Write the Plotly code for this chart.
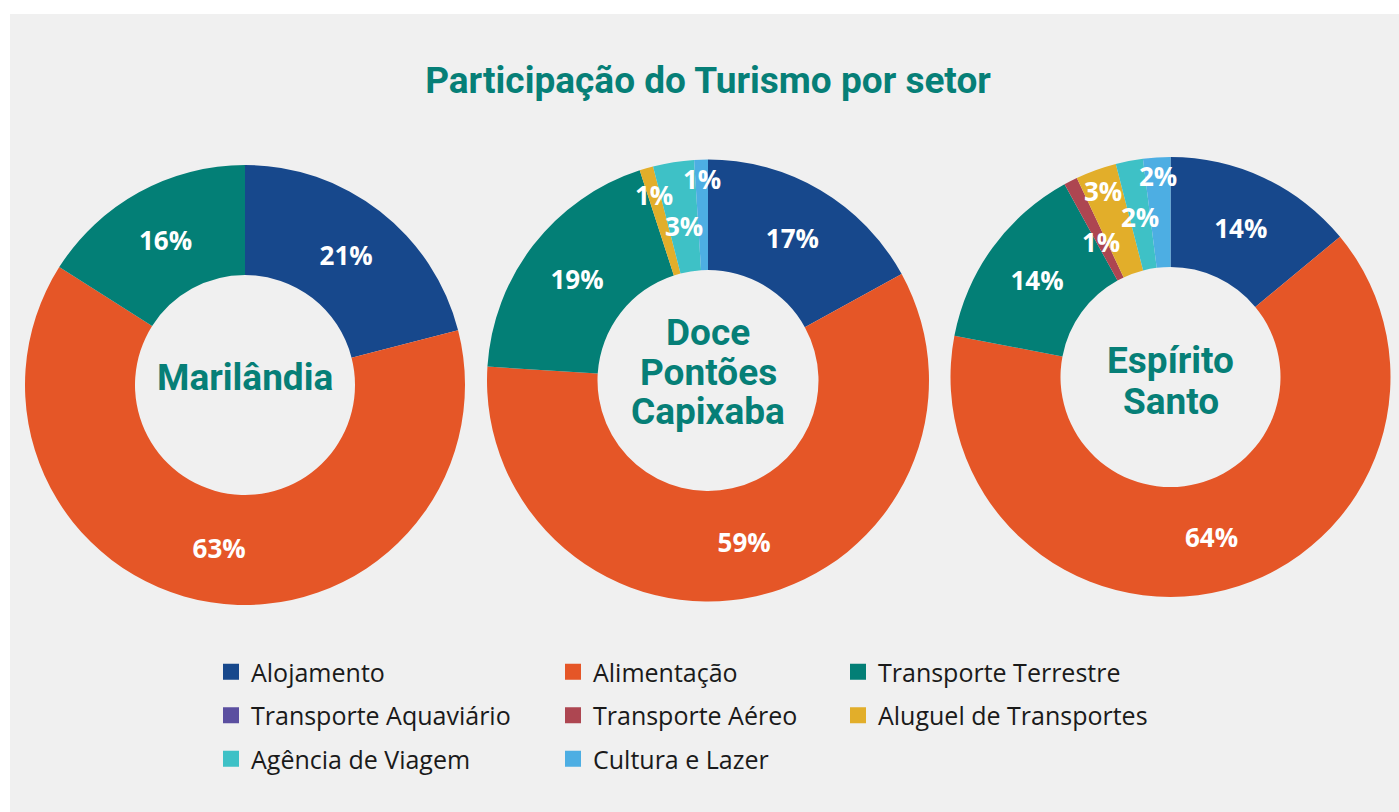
import math
import plotly.graph_objects as go

W, H = 1399, 812

categories = ["Alojamento", "Alimentação", "Transporte Terrestre",
              "Transporte Aquaviário", "Transporte Aéreo", "Aluguel de Transportes",
              "Agência de Viagem", "Cultura e Lazer"]
colors = ["#17488c", "#e55627", "#037f76", "#5b4fa0",
          "#ad4651", "#e2ae2a", "#3ec1c6", "#4daee3"]

marilandia = [21, 63, 16, 0, 0, 0, 0, 0]
doce_pontoes = [17, 59, 19, 0, 0, 1, 3, 1]
espirito_santo = [14, 64, 14, 0, 1, 3, 2, 2]

regions = ["Marilândia", "Doce Pontões Capixaba", "Espírito Santo"]
center_lines = [["Marilândia"], ["Doce", "Pontões", "Capixaba"], ["Espírito", "Santo"]]

legend_columns = [["Alojamento", "Transporte Aquaviário", "Agência de Viagem"],
                  ["Alimentação", "Transporte Aéreo", "Cultura e Lazer"],
                  ["Transporte Terrestre", "Aluguel de Transportes"]]

title_text = "Participação do Turismo por setor"

TEAL = "#067f77"
SMALL = 5  # slices below this share get a staggered label

# pixel layout (center x, center y, radius) and label radii for small slices
pies_px = [(245, 385, 220), (708, 380.5, 221), (1170.5, 377, 220)]
center_text_px = [[377], [332, 372, 411], [361, 401]]
small_label_radius = [
    {},
    {"Aluguel de Transportes": 193, "Agência de Viagem": 156, "Cultura e Lazer": 202},
    {"Transporte Aéreo": 152, "Aluguel de Transportes": 198, "Agência de Viagem": 163,
     "Cultura e Lazer": 201},
]

label_font = dict(family="Open Sans", size=26, color="white", weight="bold")

fig = go.Figure()
annotations = []

for vals, name, (cx, cy, r), radii in zip([marilandia, doce_pontoes, espirito_santo],
                                          regions, pies_px, small_label_radius):
    labs = [c for c, v in zip(categories, vals) if v > 0]
    vs = [v for v in vals if v > 0]
    cols = [colors[categories.index(c)] for c in labs]
    positions = ["inside" if v >= SMALL else "none" for v in vs]
    fig.add_trace(go.Pie(
        labels=labs, values=vs, name=name,
        hole=0.5, sort=False, direction="clockwise", rotation=0,
        marker=dict(colors=cols, line=dict(width=0)),
        texttemplate="%{value}%", textposition=positions,
        insidetextorientation="horizontal",
        textfont=label_font,
        showlegend=False, hoverinfo="label+value",
        domain=dict(x=[(cx - r) / W, (cx + r) / W], y=[1 - (cy + r) / H, 1 - (cy - r) / H]),
    ))
    # staggered labels for the thin slices, placed at each slice's mid angle
    total = sum(vs)
    cum = 0
    for lab, v in zip(labs, vs):
        mid = (cum + v / 2) / total * 2 * math.pi
        cum += v
        if v >= SMALL:
            continue
        rr = radii[lab]
        px = cx + rr * math.sin(mid)
        py = cy - rr * math.cos(mid)
        annotations.append(dict(
            text=f"{v}%", x=px / W, y=1 - py / H, xref="paper", yref="paper",
            xanchor="center", yanchor="middle", showarrow=False, font=label_font,
        ))

# legend entries (three columns -> three legends)
legend_names = ["legend", "legend2", "legend3"]
for li, col in enumerate(legend_columns):
    for cat in col:
        fig.add_trace(go.Scatter(
            x=[None], y=[None], mode="markers", name=cat,
            marker=dict(symbol="square", size=18, color=colors[categories.index(cat)]),
            legend=legend_names[li], legendgroup=cat, showlegend=True, hoverinfo="skip",
        ))

legend_common = dict(
    font=dict(family="Open Sans", size=25, color="#1a1a1a"),
    bgcolor="rgba(0,0,0,0)", borderwidth=0,
    traceorder="grouped", tracegroupgap=8,
    orientation="v", xanchor="left", yanchor="top", y=1 - 649 / H,
)
legend_x_px = [211, 553, 838]

for lines, ys, (cx, cy, r) in zip(center_lines, center_text_px, pies_px):
    for line, py in zip(lines, ys):
        annotations.append(dict(
            text=line, x=cx / W, y=1 - py / H, xref="paper", yref="paper",
            xanchor="center", yanchor="middle", showarrow=False,
            font=dict(family="Roboto", size=37, color=TEAL, weight="bold"),
        ))

fig.update_layout(
    width=W, height=H,
    margin=dict(l=0, r=0, t=0, b=0),
    paper_bgcolor="white", plot_bgcolor="rgba(0,0,0,0)",
    title=dict(text=title_text, x=708 / W, xanchor="center", y=1 - 80 / H, yanchor="middle",
               xref="paper", yref="container",
               font=dict(family="Roboto", size=37, color=TEAL, weight="bold")),
    xaxis=dict(visible=False), yaxis=dict(visible=False),
    shapes=[dict(type="rect", xref="paper", yref="paper", x0=10 / W, x1=1, y0=0, y1=1 - 14 / H,
                 fillcolor="#f0f0f0", line=dict(width=0), layer="below")],
    annotations=annotations,
    legend=dict(**legend_common, x=legend_x_px[0] / W),
    legend2=dict(**legend_common, x=legend_x_px[1] / W),
    legend3=dict(**legend_common, x=legend_x_px[2] / W),
    uniformtext=dict(minsize=26, mode="show"),
)

fig.write_html("out.html", config={"displayModeBar": False},
               post_script="document.body.style.margin='0';document.body.style.overflow='hidden';")
